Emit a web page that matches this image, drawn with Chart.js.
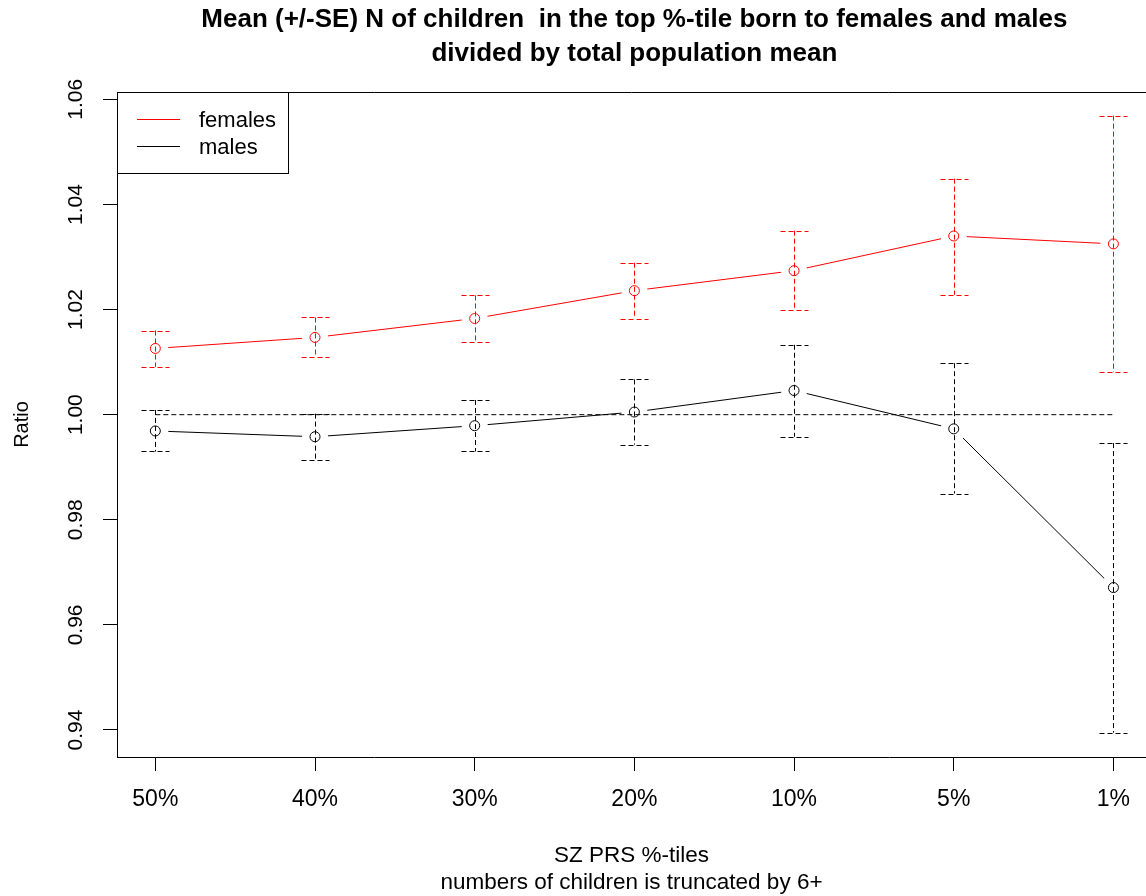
<!DOCTYPE html>
<html>
<head>
<meta charset="utf-8">
<script src="https://cdn.jsdelivr.net/npm/chart.js@4.4.1/dist/chart.umd.min.js"></script>
<style>
  html, body { margin: 0; padding: 0; background: #fff; overflow: hidden; }
</style>
</head>
<body>
<canvas id="chart" width="1146" height="896"></canvas>
<script>
// values
const categories = ["50%", "40%", "30%", "20%", "10%", "5%", "1%"];
const femaleMean  = [1.0126, 1.0147, 1.0183, 1.0236, 1.0274, 1.0340, 1.0325];
const femaleUpper = [1.0160, 1.0185, 1.0227, 1.0289, 1.0350, 1.0449, 1.0569];
const femaleLower = [1.0091, 1.0109, 1.0139, 1.0183, 1.0199, 1.0228, 1.0081];
const maleMean  = [0.9969, 0.9958, 0.9979, 1.0005, 1.0046, 0.9973, 0.9671];
const maleUpper = [1.0009, 1.0002, 1.0028, 1.0067, 1.0133, 1.0098, 0.9946];
const maleLower = [0.9930, 0.9914, 0.9930, 0.9943, 0.9958, 0.9850, 0.9395];
const yTicks = [0.94, 0.96, 0.98, 1.00, 1.02, 1.04, 1.06];
const refLevel = 1.0;

const FONT = "'Liberation Sans', Arial, sans-serif";
const DASH = [5, 3];

const toPoints = (arr) => arr.map((v, i) => ({ x: i, y: v }));

// error bars, connecting lines (with gaps like R type="b"), reference line, box, legend, title
const rPlotPlugin = {
  id: "rPlot",
  beforeDatasetsDraw(chart) {
    const { ctx, chartArea, scales: { x, y } } = chart;
    ctx.save();
    ctx.lineWidth = 1;

    // top border of the box
    ctx.strokeStyle = "#000";
    ctx.beginPath();
    ctx.moveTo(chartArea.left, chartArea.top + 0.5);
    ctx.lineTo(chartArea.right, chartArea.top + 0.5);
    ctx.stroke();

    // reference line at 1.0
    ctx.setLineDash(DASH);
    ctx.strokeStyle = "#000";
    ctx.beginPath();
    ctx.moveTo(x.getPixelForValue(0), y.getPixelForValue(refLevel));
    ctx.lineTo(x.getPixelForValue(categories.length - 1), y.getPixelForValue(refLevel));
    ctx.stroke();

    chart.data.datasets.forEach((ds) => {
      ctx.strokeStyle = ds.borderColor;
      // error bars
      ctx.setLineDash(DASH);
      ds.data.forEach((p, i) => {
        const px = Math.round(x.getPixelForValue(p.x)) + 0.5;
        const top = y.getPixelForValue(ds.errUpper[i]);
        const bot = y.getPixelForValue(ds.errLower[i]);
        ctx.beginPath();
        ctx.moveTo(px, top);
        ctx.lineTo(px, bot);
        ctx.moveTo(px - 14, Math.round(top) + 0.5);
        ctx.lineTo(px + 14, Math.round(top) + 0.5);
        ctx.moveTo(px - 14, Math.round(bot) + 0.5);
        ctx.lineTo(px + 14, Math.round(bot) + 0.5);
        ctx.stroke();
      });
      // connecting lines, stopped short of the circles
      ctx.setLineDash([]);
      const gap = 13;
      for (let i = 0; i < ds.data.length - 1; i++) {
        const x0 = x.getPixelForValue(ds.data[i].x), y0 = y.getPixelForValue(ds.data[i].y);
        const x1 = x.getPixelForValue(ds.data[i + 1].x), y1 = y.getPixelForValue(ds.data[i + 1].y);
        const len = Math.hypot(x1 - x0, y1 - y0);
        const ux = (x1 - x0) / len, uy = (y1 - y0) / len;
        ctx.beginPath();
        ctx.moveTo(x0 + ux * gap, y0 + uy * gap);
        ctx.lineTo(x1 - ux * gap, y1 - uy * gap);
        ctx.stroke();
      }
    });
    ctx.restore();
  },
  afterDraw(chart) {
    const { ctx, chartArea, scales: { x, y } } = chart;
    ctx.save();

    // rotated y tick labels
    ctx.fillStyle = "#000";
    ctx.font = "21px " + FONT;
    ctx.textAlign = "center";
    ctx.textBaseline = "middle";
    yTicks.forEach((t) => {
      ctx.save();
      ctx.translate(76, y.getPixelForValue(t));
      ctx.rotate(-Math.PI / 2);
      ctx.fillText(t.toFixed(2), 0, 0);
      ctx.restore();
    });

    // legend box
    ctx.strokeStyle = "#000";
    ctx.lineWidth = 1;
    ctx.strokeRect(chartArea.left + 0.5, chartArea.top + 0.5, 171, 81);
    ctx.font = "22px " + FONT;
    chart.data.datasets.forEach((ds, i) => {
      const ly = chartArea.top + 27.5 + i * 27;
      ctx.strokeStyle = ds.borderColor;
      ctx.beginPath();
      ctx.moveTo(chartArea.left + 20, ly);
      ctx.lineTo(chartArea.left + 63, ly);
      ctx.stroke();
      ctx.fillStyle = "#000";
      ctx.textAlign = "left";
      ctx.fillText(ds.label, chartArea.left + 82, ly + 1.5);
    });

    // main title, centred over the full plot region
    const cx = (chartArea.left + x.getPixelForValue(6.24)) / 2;
    ctx.font = "bold 26px " + FONT;
    ctx.textAlign = "center";
    ctx.fillStyle = "#000";
    ctx.fillText("Mean (+/-SE) N of children  in the top %-tile born to females and males", cx, 20);
    ctx.fillText("divided by total population mean", cx, 54);
    ctx.restore();
  }
};

new Chart(document.getElementById("chart"), {
  type: "scatter",
  data: {
    datasets: [
      {
        label: "females",
        data: toPoints(femaleMean),
        errUpper: femaleUpper,
        errLower: femaleLower,
        borderColor: "#ff0000",
        pointBorderColor: "#ff0000",
        pointBackgroundColor: "rgba(0,0,0,0)",
        pointRadius: 5,
        pointBorderWidth: 1,
        showLine: false,
      },
      {
        label: "males",
        data: toPoints(maleMean),
        errUpper: maleUpper,
        errLower: maleLower,
        borderColor: "#000000",
        pointBorderColor: "#000000",
        pointBackgroundColor: "rgba(0,0,0,0)",
        pointRadius: 5,
        pointBorderWidth: 1,
        showLine: false,
      },
    ],
  },
  options: {
    responsive: false,
    animation: false,
    events: [],
    layout: { autoPadding: false, padding: { top: 92, left: 0, right: 0, bottom: 0 } },
    plugins: {
      legend: { display: false },
      tooltip: { enabled: false },
    },
    scales: {
      x: {
        type: "linear",
        min: -0.24,
        max: 6.204,
        afterBuildTicks: (scale) => {
          scale.ticks = categories.map((c, i) => ({ value: i }));
        },
        afterFit: (scale) => {
          scale.height = 139;
          scale.paddingLeft = 0;
          scale.paddingRight = 0;
        },
        ticks: {
          callback: (v) => categories[v],
          color: "#000",
          font: { family: FONT, size: 23 },
          padding: 15,
          maxRotation: 0,
          autoSkip: false,
        },
        grid: { drawOnChartArea: false, tickLength: 14, color: "#000", lineWidth: 1 },
        border: { color: "#000", width: 1 },
        title: {
          display: true,
          text: ["SZ PRS %-tiles", "numbers of children is truncated by 6+"],
          color: "#000",
          font: { family: FONT, size: 22.5, lineHeight: "27px" },
          padding: { top: 0, bottom: 0 },
        },
      },
      y: {
        type: "linear",
        min: 0.93486,
        max: 1.0614,
        afterBuildTicks: (scale) => {
          scale.ticks = yTicks.map((v) => ({ value: v }));
        },
        afterFit: (scale) => {
          scale.width = 117;
          scale.paddingTop = 0;
          scale.paddingBottom = 0;
        },
        ticks: { display: false },
        grid: { drawOnChartArea: false, tickLength: 14, color: "#000", lineWidth: 1 },
        border: { color: "#000", width: 1 },
        title: {
          display: true,
          text: "Ratio",
          color: "#000",
          font: { family: FONT, size: 20 },
          padding: { top: 10, bottom: 0 },
        },
      },
    },
  },
  plugins: [rPlotPlugin],
});
</script>
</body>
</html>
